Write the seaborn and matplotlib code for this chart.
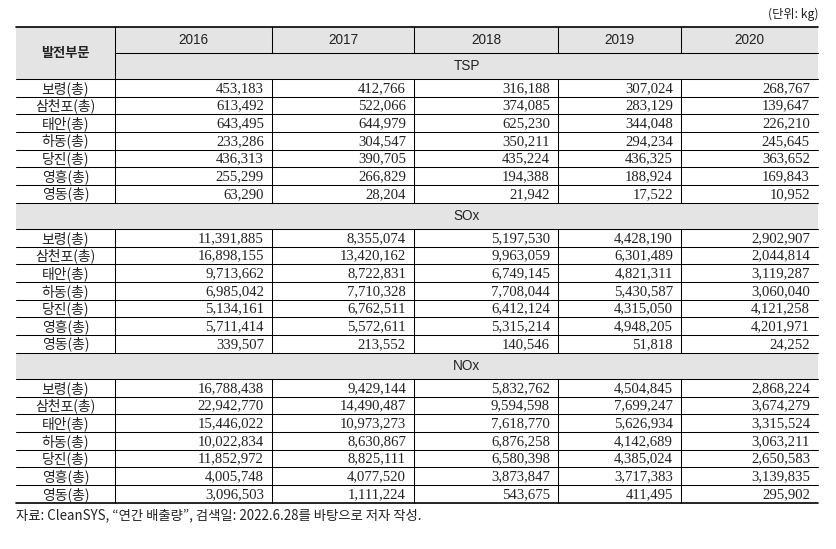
import matplotlib
matplotlib.use("Agg")
import matplotlib.pyplot as plt
import seaborn as sns
from matplotlib.patches import Rectangle

sns.set_theme(style="white")
plt.rcParams['font.family'] = ['Noto Sans CJK KR', 'DejaVu Sans']

# ------------------------------
# Data
# ------------------------------
years = ["2016", "2017", "2018", "2019", "2020"]
plants = ["보령(총)", "삼천포(총)", "태안(총)", "하동(총)", "당진(총)", "영흥(총)", "영동(총)"]
pollutants = ["TSP", "SOx", "NOx"]

tsp = [
    [453183, 412766, 316188, 307024, 268767],
    [613492, 522066, 374085, 283129, 139647],
    [643495, 644979, 625230, 344048, 226210],
    [233286, 304547, 350211, 294234, 245645],
    [436313, 390705, 435224, 436325, 363652],
    [255299, 266829, 194388, 188924, 169843],
    [63290, 28204, 21942, 17522, 10952],
]
sox = [
    [11391885, 8355074, 5197530, 4428190, 2902907],
    [16898155, 13420162, 9963059, 6301489, 2044814],
    [9713662, 8722831, 6749145, 4821311, 3119287],
    [6985042, 7710328, 7708044, 5430587, 3060040],
    [5134161, 6762511, 6412124, 4315050, 4121258],
    [5711414, 5572611, 5315214, 4948205, 4201971],
    [339507, 213552, 140546, 51818, 24252],
]
nox = [
    [16788438, 9429144, 5832762, 4504845, 2868224],
    [22942770, 14490487, 9594598, 7699247, 3674279],
    [15446022, 10973273, 7618770, 5626934, 3315524],
    [10022834, 8630867, 6876258, 4142689, 3063211],
    [11852972, 8825111, 6580398, 4385024, 2650583],
    [4005748, 4077520, 3873847, 3717383, 3139835],
    [3096503, 1111224, 543675, 411495, 295902],
]
tables = [tsp, sox, nox]

header_label = "발전부문"
unit_label = "(단위: kg)"
source_note = "자료: CleanSYS, “연간 배출량”, 검색일: 2022.6.28를 바탕으로 저자 작성."

# ------------------------------
# Layout (pixel units)
# ------------------------------
W, H = 836, 549
col_edges = [16, 115, 272, 414, 558, 681, 818]
top = 27
head_h = 26
sec_h = 26.5
row_h = 17.65
pad_right = 8
gray = "#e4e4e4"
thin = 0.75
thick = 1.2

serif = ['Liberation Serif', 'DejaVu Serif']
sans = ['Liberation Sans', 'DejaVu Sans']

fig = plt.figure(figsize=(W / 100, H / 100), dpi=100)
ax = fig.add_axes([0, 0, 1, 1])
ax.set_xlim(0, W)
ax.set_ylim(H, 0)
ax.axis("off")

x0, x1 = col_edges[0], col_edges[-1]
xs = col_edges[1]

# header block
ax.add_patch(Rectangle((x0, top), x1 - x0, 2 * head_h, color=gray, lw=0))
ax.text((x0 + xs) / 2, top + head_h, header_label, ha="center", va="center",
        fontsize=9.5, fontweight="bold", color="#222222")
for j, yr in enumerate(years):
    cx = (col_edges[j + 1] + col_edges[j + 2]) / 2
    ax.text(cx, top + head_h / 2, yr, ha="center", va="center",
            family=sans, fontsize=9.8, color="#222222")
ax.plot([x0, x1], [top, top], color="black", lw=thick)
ax.plot([xs, x1], [top + head_h, top + head_h], color="black", lw=thin)
ax.plot([xs, xs], [top, top + 2 * head_h], color="black", lw=thin)
for e in col_edges[2:-1]:
    ax.plot([e, e], [top, top + head_h], color="black", lw=thin)

y = top + head_h
for k, (name, tbl) in enumerate(zip(pollutants, tables)):
    h = head_h if k == 0 else sec_h
    if k > 0:
        ax.add_patch(Rectangle((x0, y), x1 - x0, h, color=gray, lw=0))
    ax.text((xs + x1) / 2, y + h / 2, name, ha="center", va="center",
            family=sans, fontsize=9.8, color="#222222")
    y += h
    ax.plot([x0, x1], [y, y], color="black", lw=thin)
    start = y
    for i, plant in enumerate(plants):
        cy = y + row_h / 2
        ax.text((x0 + xs) / 2, cy + 0.5, plant, ha="center", va="center",
                fontsize=10, color="#222222")
        for j, v in enumerate(tbl[i]):
            ax.text(col_edges[j + 2] - pad_right, cy + 0.5, f"{v:,}", ha="right",
                    va="center", family=serif, fontsize=10.6, color="#222222")
        y += row_h
        lw = thick if (k == len(pollutants) - 1 and i == len(plants) - 1) else thin
        ax.plot([x0, x1], [y, y], color="black", lw=lw)
    for e in col_edges[1:-1]:
        ax.plot([e, e], [start, y], color="black", lw=thin)

ax.text(x1, 14, unit_label, ha="right", va="center", fontsize=8.8,
        family=['Noto Sans CJK KR', 'DejaVu Sans'], color="#222222")
ax.text(x0, y + 13, source_note, ha="left", va="center", fontsize=9.6,
        family=['Noto Sans CJK KR', 'DejaVu Sans'], color="#222222")

fig.savefig("out.png", dpi=100)
